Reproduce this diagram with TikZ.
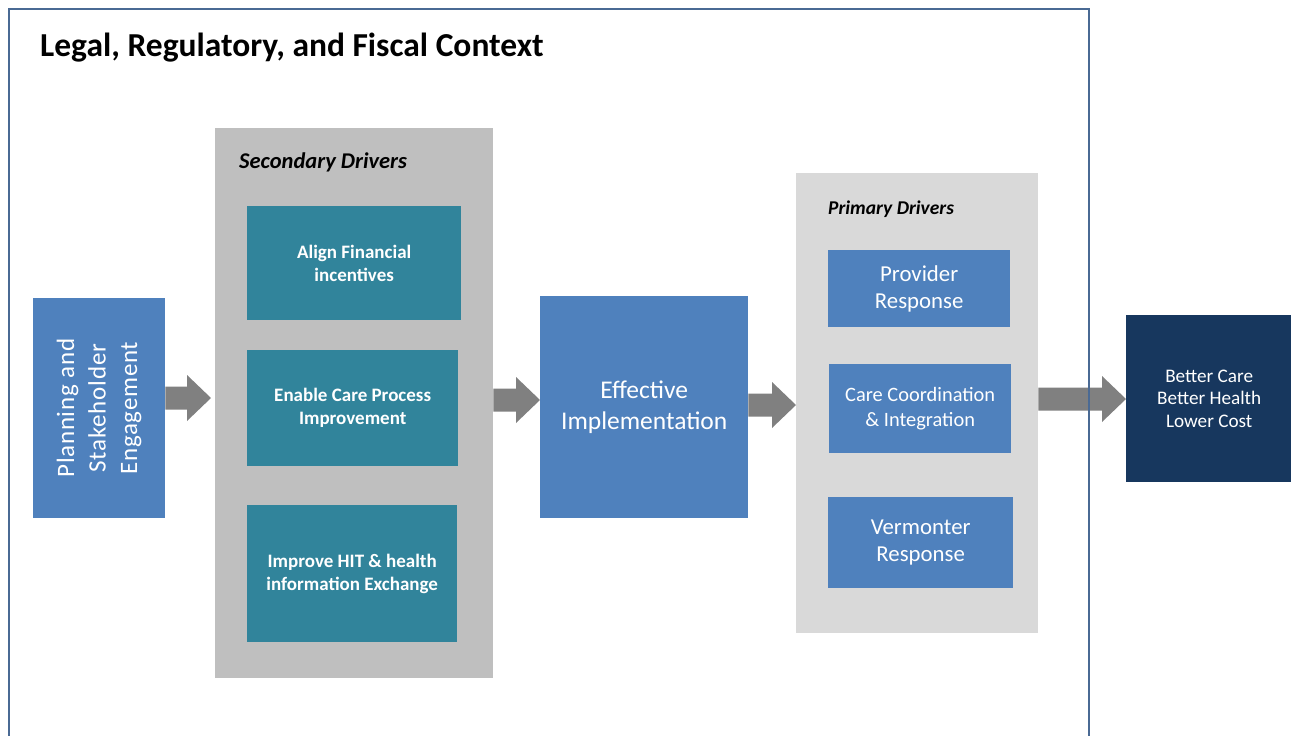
\documentclass[tikz,border=0pt]{standalone}
\usepackage{fontspec}
\usepackage{graphicx}
\setmainfont{Carlito}
\usetikzlibrary{calc}

\definecolor{stepblue}{HTML}{4F81BD}
\definecolor{teal}{HTML}{31849B}
\definecolor{navy}{HTML}{17375E}
\definecolor{secgray}{HTML}{BFBFBF}
\definecolor{primgray}{HTML}{D9D9D9}
\definecolor{arrowgray}{HTML}{808080}
\definecolor{framecol}{HTML}{4A6A94}

\newcommand{\fsz}[2]{\fontsize{#1}{#2}\selectfont}

% block arrow from point #1 to point #2 (horizontal)
\newcommand{\blockarrow}[2]{%
  \fill[arrowgray] let \p1=(#1), \p2=(#2) in
    (\x1,\y1+11.5pt) -- (\x2-24pt,\y1+11.5pt) -- (\x2-24pt,\y1+23pt) --
    (\x2,\y1) -- (\x2-24pt,\y1-23pt) -- (\x2-24pt,\y1-11.5pt) --
    (\x1,\y1-11.5pt) -- cycle;}

\tikzset{
  box/.style={inner sep=0pt, anchor=north west, align=center, text=white,
    execute at begin node=\vspace*{3pt}},
  panel/.style={inner sep=0pt, anchor=north west},
  heading/.style={inner sep=0pt, anchor=west},
  driver/.style={box, fill=teal, font=\fsz{19}{23}\bfseries},
}

\begin{document}
\begin{tikzpicture}[x=1pt,y=-1pt]
\useasboundingbox (0,0) rectangle (1291,736);
\fill[white] (0,0) rectangle (1291,736);

% title
\node[inner sep=0pt, anchor=west, font=\fsz{33.5}{38}\bfseries] (title) at (40,48)
  {Legal, Regulatory, and Fiscal Context};

% panels
\node[panel, fill=secgray, minimum width=278pt, minimum height=550pt] (sec) at (215,128) {};
\node[panel, fill=primgray, minimum width=242pt, minimum height=460pt] (prim) at (796,173) {};
\node[heading, font=\fsz{22.5}{26}\bfseries\itshape] (sectitle) at (239,162) {Secondary Drivers};
\node[heading, font=\fsz{19.5}{23}\bfseries\itshape] (primtitle) at (828,209) {Primary Drivers};

% left step
\node[box, fill=stepblue, minimum width=132pt, minimum height=220pt,
      execute at begin node={}] (plan) at (33,298)
  {\rotatebox{90}{\fsz{25}{31.5}\addfontfeature{LetterSpace=3}\begin{tabular}{@{}c@{}}Planning and\\Stakeholder\\Engagement\end{tabular}}};

% secondary drivers
\node[driver, minimum width=214pt, minimum height=114pt] (fin) at (247,206)
  {Align Financial\\incentives};
\node[driver, minimum width=211pt, minimum height=116pt] (care) at (247,350)
  {Enable Care Process\\Improvement};
\node[driver, minimum width=210pt, minimum height=137pt] (hit) at (247,505)
  {Improve HIT \& health\\information Exchange};

% implementation
\node[box, fill=stepblue, minimum width=208pt, minimum height=222pt, font=\fsz{25.5}{31}] (impl) at (540,296)
  {Effective\\Implementation};

% primary drivers
\node[box, fill=stepblue, minimum width=182pt, minimum height=77pt, font=\fsz{22.8}{27}] (prov) at (828,250)
  {Provider\\Response};
\node[box, fill=stepblue, minimum width=182pt, minimum height=89pt, font=\fsz{20.4}{25}] (coord) at (829,364)
  {Care Coordination\\\& Integration};
\node[box, fill=stepblue, minimum width=185pt, minimum height=91pt, font=\fsz{22.8}{27}] (verm) at (828,497)
  {Vermonter\\Response};

% outcome
\node[box, fill=navy, minimum width=166pt, minimum height=167pt, font=\fsz{19.2}{22.5}] (goal) at (1126,315)
  {Better Care\\Better Health\\Lower Cost};

% block arrows
\coordinate (a1s) at (plan.east |- 0,398);
\coordinate (a1e) at ($(sec.west |- 0,398)+(-4,0)$);
\blockarrow{a1s}{a1e}
\coordinate (a2s) at (sec.east |- 0,400);
\coordinate (a2e) at (impl.west |- 0,400);
\blockarrow{a2s}{a2e}
\coordinate (a3s) at (impl.east |- 0,405);
\coordinate (a3e) at (prim.west |- 0,405);
\blockarrow{a3s}{a3e}
\coordinate (a4s) at (prim.east |- 0,399);
\coordinate (a4e) at (goal.west |- 0,399);
\blockarrow{a4s}{a4e}

% context frame
\draw[framecol, line width=2pt] (9,737) -- (9,9) -- (1089,9) -- (1089,737);
\end{tikzpicture}
\end{document}
